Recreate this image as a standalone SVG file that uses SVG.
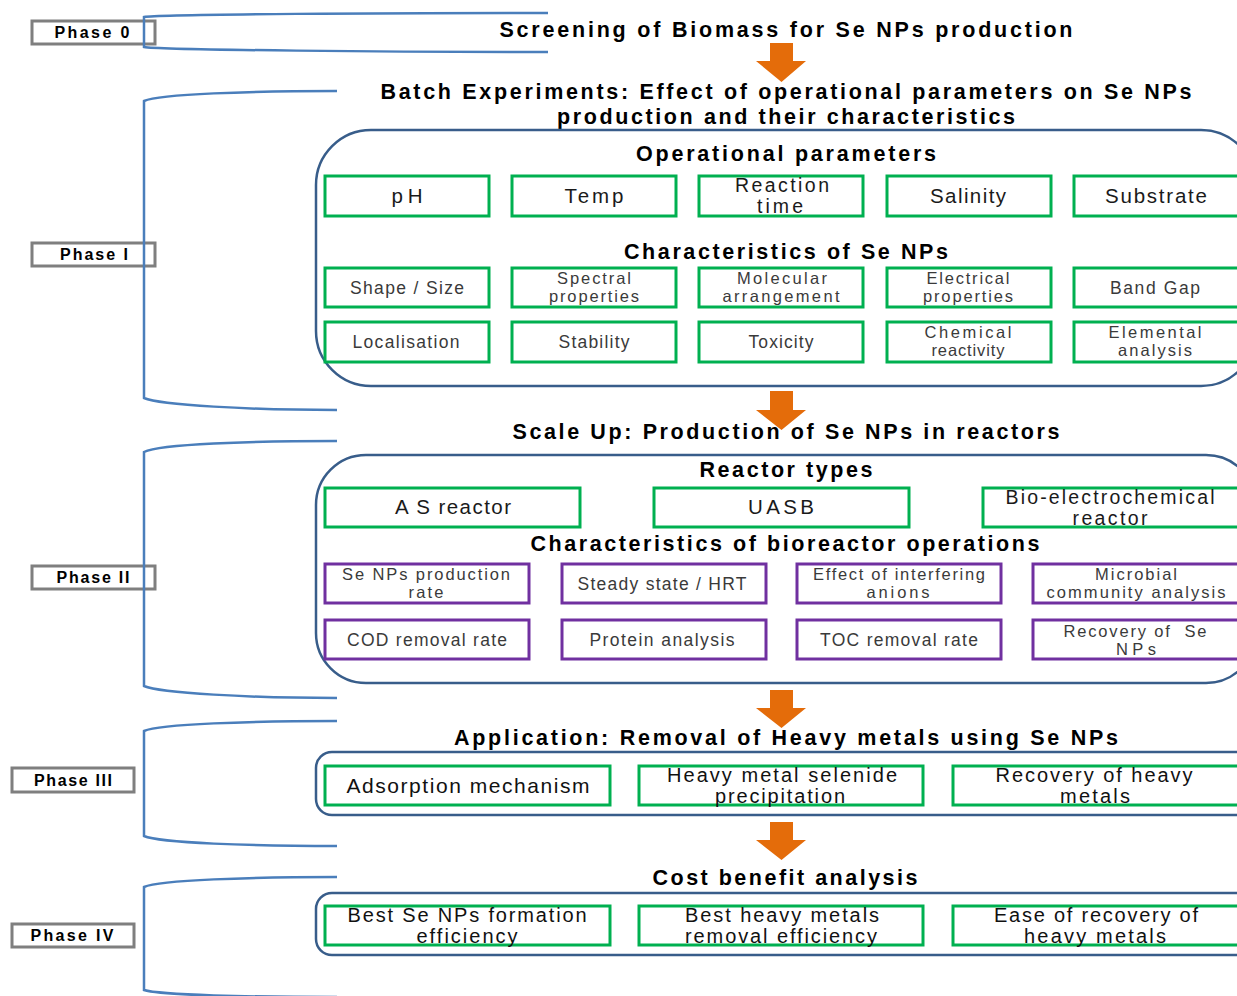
<svg xmlns="http://www.w3.org/2000/svg" width="1237" height="996" viewBox="0 0 1237 996">
<style>
text{font-family:"Liberation Sans",Arial,sans-serif;text-anchor:middle}
.title{font-weight:bold;font-size:21.5px;fill:#000}
.phase{font-weight:bold;font-size:16px;fill:#000}
.plabel{fill:#fff;stroke:#7f7f7f;stroke-width:3}
.bracket{fill:none;stroke:#4a7ebb;stroke-width:2.5}
.cont{fill:#fff;stroke:#385d8a;stroke-width:2.5}
.g{fill:#fff;stroke:#00b050;stroke-width:3}
.p{fill:#fff;stroke:#7030a0;stroke-width:3}
.t19{font-size:20.5px;fill:#1a1a1a}
.t19b{font-size:19.5px;fill:#1a1a1a}
.t16{font-size:17.5px;fill:#3a3a3a}
.t16b{font-size:16.5px;fill:#3a3a3a}
.t20{font-size:21px;fill:#111}
.t20b{font-size:20px;fill:#111}
.arrow{fill:#e46c0a}
</style>

<g id="phase-labels">
<g id="phase0"><rect class="plabel" x="32" y="21" width="123" height="23"/><text class="phase" x="92" y="38" textLength="75">Phase 0</text></g>
<g id="phase1"><rect class="plabel" x="32" y="243" width="123" height="23"/><text class="phase" x="94" y="260" textLength="68">Phase I</text></g>
<g id="phase2"><rect class="plabel" x="32" y="566" width="123" height="23"/><text class="phase" x="93" y="583" textLength="73">Phase II</text></g>
<g id="phase3"><rect class="plabel" x="12" y="768" width="122" height="24"/><text class="phase" x="73" y="786" textLength="78">Phase III</text></g>
<g id="phase4"><rect class="plabel" x="12" y="924" width="122" height="23"/><text class="phase" x="72" y="941" textLength="83">Phase IV</text></g>
</g>

<g id="brackets">
<path class="bracket" d="M548,13 C400,13 160,14 144,17 L144,47 C160,50 400,52 548,52"/>
<path class="bracket" d="M337,91 C250,91 160,94 144,101 L144,398 C160,405 250,410 337,410"/>
<path class="bracket" d="M337,441 C250,441 160,444 144,452 L144,686 C160,693 250,698 337,698"/>
<path class="bracket" d="M337,721 C250,721 160,724 144,731 L144,836 C160,843 250,846 337,846"/>
<path class="bracket" d="M337,877 C250,877 160,880 144,887 L144,990 C160,995 250,997 337,997"/>
</g>

<g id="titles">
<text class="title" x="786" y="37" textLength="573">Screening of Biomass for Se NPs production</text>
<text class="title" x="786" y="99" textLength="811">Batch Experiments: Effect of operational parameters on Se NPs</text>
<text class="title" x="786" y="124" textLength="458">production and their characteristics</text>
<text class="title" x="786" y="439" textLength="547">Scale Up: Production of Se NPs in reactors</text>
<text class="title" x="786" y="745" textLength="664">Application: Removal of Heavy metals using Se NPs</text>
<text class="title" x="785" y="885" textLength="265">Cost benefit analysis</text>
</g>

<g id="containers">
<rect class="cont" x="316" y="130" width="940" height="256" rx="55" ry="55"/>
<rect class="cont" x="316" y="455" width="940" height="228" rx="50" ry="50"/>
<rect class="cont" x="316" y="752" width="950" height="63" rx="16" ry="16"/>
<rect class="cont" x="316" y="893" width="950" height="62" rx="16" ry="16"/>
</g>

<g id="subtitles">
<text class="title" x="786" y="161" textLength="300">Operational parameters</text>
<text class="title" x="786" y="259" textLength="324">Characteristics of Se NPs</text>
<text class="title" x="786" y="477" textLength="173">Reactor types</text>
<text class="title" x="785" y="551" textLength="509">Characteristics of bioreactor operations</text>
</g>

<g id="op-params">
<g id="n-ph"><rect class="g" x="325" y="176" width="164" height="40"/><text class="t19" x="407" y="203" textLength="31">pH</text></g>
<g id="n-temp"><rect class="g" x="512" y="176" width="164" height="40"/><text class="t19" x="594" y="203" textLength="59">Temp</text></g>
<g id="n-rtime"><rect class="g" x="699" y="176" width="164" height="40"/><text class="t19b" x="782" y="192" textLength="94">Reaction</text><text class="t19b" x="780" y="213" textLength="46">time</text></g>
<g id="n-salinity"><rect class="g" x="887" y="176" width="164" height="40"/><text class="t19" x="968" y="203" textLength="76">Salinity</text></g>
<g id="n-substrate"><rect class="g" x="1074" y="176" width="175" height="40"/><text class="t19" x="1156" y="203" textLength="102">Substrate</text></g>
</g>

<g id="np-chars">
<g id="n-shape"><rect class="g" x="325" y="268" width="164" height="39"/><text class="t16" x="407" y="294" textLength="114">Shape / Size</text></g>
<g id="n-spectral"><rect class="g" x="512" y="268" width="164" height="39"/><text class="t16b" x="594" y="284" textLength="74">Spectral</text><text class="t16b" x="594" y="302" textLength="90">properties</text></g>
<g id="n-molecular"><rect class="g" x="699" y="268" width="164" height="39"/><text class="t16b" x="782" y="284" textLength="90">Molecular</text><text class="t16b" x="781" y="302" textLength="117">arrangement</text></g>
<g id="n-electrical"><rect class="g" x="887" y="268" width="164" height="39"/><text class="t16b" x="968" y="284" textLength="83">Electrical</text><text class="t16b" x="968" y="302" textLength="90">properties</text></g>
<g id="n-bandgap"><rect class="g" x="1074" y="268" width="175" height="39"/><text class="t16" x="1155" y="294" textLength="90">Band Gap</text></g>
<g id="n-local"><rect class="g" x="325" y="322" width="164" height="40"/><text class="t16" x="406" y="348" textLength="107">Localisation</text></g>
<g id="n-stability"><rect class="g" x="512" y="322" width="164" height="40"/><text class="t16" x="594" y="348" textLength="71">Stability</text></g>
<g id="n-toxicity"><rect class="g" x="699" y="322" width="164" height="40"/><text class="t16" x="781" y="348" textLength="65">Toxicity</text></g>
<g id="n-chemical"><rect class="g" x="887" y="322" width="164" height="40"/><text class="t16b" x="968" y="338" textLength="87">Chemical</text><text class="t16b" x="968" y="356" textLength="73">reactivity</text></g>
<g id="n-elemental"><rect class="g" x="1074" y="322" width="175" height="40"/><text class="t16b" x="1155" y="338" textLength="93">Elemental</text><text class="t16b" x="1155" y="356" textLength="74">analysis</text></g>
</g>

<g id="reactors">
<g id="n-as"><rect class="g" x="325" y="488" width="255" height="39"/><text class="t19" x="453" y="514" textLength="116">A S reactor</text></g>
<g id="n-uasb"><rect class="g" x="654" y="488" width="255" height="39"/><text class="t19" x="781" y="514" textLength="66">UASB</text></g>
<g id="n-bio"><rect class="g" x="983" y="488" width="266" height="39"/><text class="t19b" x="1110" y="504" textLength="209">Bio-electrochemical</text><text class="t19b" x="1110" y="525" textLength="75">reactor</text></g>
</g>

<g id="bioreactor-chars">
<g id="n-prodrate"><rect class="p" x="325" y="564" width="204" height="39"/><text class="t16b" x="426" y="580" textLength="168">Se NPs production</text><text class="t16b" x="426" y="598" textLength="35">rate</text></g>
<g id="n-steady"><rect class="p" x="562" y="564" width="204" height="39"/><text class="t16" x="662" y="590" textLength="169">Steady state / HRT</text></g>
<g id="n-anions"><rect class="p" x="797" y="564" width="204" height="39"/><text class="t16b" x="899" y="580" textLength="172">Effect of interfering</text><text class="t16b" x="898" y="598" textLength="63">anions</text></g>
<g id="n-microbial"><rect class="p" x="1033" y="564" width="216" height="39"/><text class="t16b" x="1136" y="580" textLength="82">Microbial</text><text class="t16b" x="1136" y="598" textLength="179">community analysis</text></g>
<g id="n-cod"><rect class="p" x="325" y="620" width="204" height="39"/><text class="t16" x="427" y="646" textLength="160">COD removal rate</text></g>
<g id="n-protein"><rect class="p" x="562" y="620" width="204" height="39"/><text class="t16" x="662" y="646" textLength="145">Protein analysis</text></g>
<g id="n-toc"><rect class="p" x="797" y="620" width="204" height="39"/><text class="t16" x="899" y="646" textLength="158">TOC removal rate</text></g>
<g id="n-recovery"><rect class="p" x="1033" y="620" width="216" height="39"/><text class="t16b" x="1135" y="637" textLength="143" xml:space="preserve">Recovery of  Se</text><text class="t16b" x="1136" y="655" textLength="40">NPs</text></g>
</g>

<g id="application">
<g id="n-adsorption"><rect class="g" x="325" y="766" width="285" height="39"/><text class="t20" x="468" y="793" textLength="243">Adsorption mechanism</text></g>
<g id="n-selenide"><rect class="g" x="639" y="766" width="284" height="39"/><text class="t20b" x="782" y="782" textLength="230">Heavy metal selenide</text><text class="t20b" x="780" y="803" textLength="130">precipitation</text></g>
<g id="n-recheavy"><rect class="g" x="953" y="766" width="296" height="39"/><text class="t20b" x="1094" y="782" textLength="197">Recovery of heavy</text><text class="t20b" x="1095" y="803" textLength="70">metals</text></g>
</g>

<g id="cost-benefit">
<g id="n-bestse"><rect class="g" x="325" y="906" width="285" height="39"/><text class="t20b" x="467" y="922" textLength="239">Best Se NPs formation</text><text class="t20b" x="467" y="943" textLength="101">efficiency</text></g>
<g id="n-besthm"><rect class="g" x="639" y="906" width="284" height="39"/><text class="t20b" x="782" y="922" textLength="194">Best heavy metals</text><text class="t20b" x="781" y="943" textLength="192">removal efficiency</text></g>
<g id="n-ease"><rect class="g" x="953" y="906" width="296" height="39"/><text class="t20b" x="1096" y="922" textLength="204">Ease of recovery of</text><text class="t20b" x="1095" y="943" textLength="142">heavy metals</text></g>
</g>

<g id="connectors">
<polygon class="arrow" points="770,43 793,43 793,61 806,61 781.5,82 756,61 770,61"/>
<polygon class="arrow" points="770,391 793,391 793,410 806,410 781.5,430 756,410 770,410"/>
<polygon class="arrow" points="770,690 793,690 793,708 806,708 781.5,728 756,708 770,708"/>
<polygon class="arrow" points="770,822 793,822 793,840 806,840 781.5,860 756,840 770,840"/>
</g>
</svg>
